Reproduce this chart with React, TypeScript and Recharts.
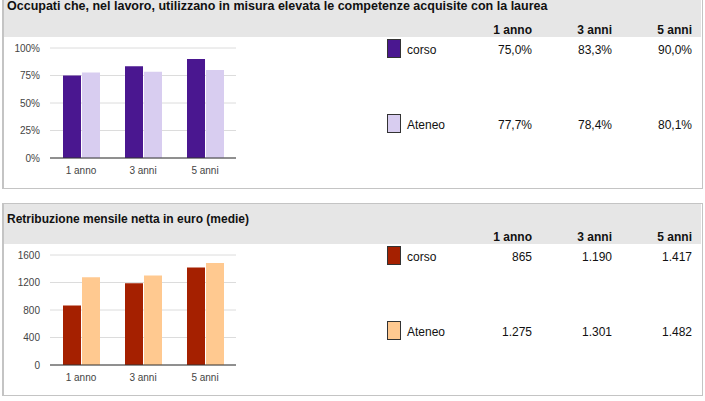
import React from 'react';
import { BarChart, Bar, XAxis, YAxis, CartesianGrid } from 'recharts';

const years = ['1 anno', '3 anni', '5 anni'];

const occCorso = [75.0, 83.3, 90.0];
const occAteneo = [77.7, 78.4, 80.1];
const occTicks = [0, 25, 50, 75, 100];

const retrCorso = [865, 1190, 1417];
const retrAteneo = [1275, 1301, 1482];
const retrTicks = [0, 400, 800, 1200, 1600];

const FONT = "Arial, 'Liberation Sans', Helvetica, sans-serif";

const pct = (v: number) => v.toFixed(1).replace('.', ',') + '%';
const euro = (v: number) => String(Math.round(v)).replace(/\B(?=(\d{3})+(?!\d))/g, '.');

interface PanelProps {
  top: number; // page y of the panel's top border
  title: string;
  titleTop: number;
  titleSize: number;
  corso: number[];
  ateneo: number[];
  ticks: number[];
  tickFmt: (v: number) => string;
  cellFmt: (v: number) => string;
  dark: string;
  light: string;
}

function Panel({ top, title, titleTop, titleSize, corso, ateneo, ticks, tickFmt, cellFmt, dark, light }: PanelProps) {
  const data = years.map((y, i) => ({ year: y, corso: corso[i], ateneo: ateneo[i] }));
  const o = top + 4; // offset relative to first panel layout
  const colRight = [532, 612, 692];

  const txt = (s: string, x: number, y: number, bold = false, right = true) => (
    <div
      key={s + x + y}
      style={{
        position: 'absolute',
        top: y,
        left: right ? x - 100 : x,
        width: 100,
        textAlign: right ? 'right' : 'left',
        fontSize: 12,
        lineHeight: '14px',
        fontWeight: bold ? 'bold' : 'normal',
        color: '#111',
        whiteSpace: 'nowrap',
      }}
    >
      {s}
    </div>
  );

  const swatch = (color: string, y: number) => (
    <div
      style={{
        position: 'absolute',
        left: 387,
        top: y,
        width: 12,
        height: 17,
        background: color,
        border: '1px solid #333',
      }}
    />
  );

  return (
    <>
      <div
        style={{
          position: 'absolute',
          left: 2,
          top,
          width: 698,
          height: 191,
          border: '1px solid #c4c4c4',
          borderLeftWidth: 2,
          background: '#fff',
        }}
      />
      <div style={{ position: 'absolute', left: 4, top: top + 1, width: 697, height: 40, background: '#e6e6e6' }} />
      <div
        style={{
          position: 'absolute',
          left: 7,
          top: titleTop,
          fontSize: titleSize,
          lineHeight: '14px',
          fontWeight: 'bold',
          color: '#111',
          whiteSpace: 'nowrap',
        }}
      >
        {title}
      </div>

      {years.map((y, i) => txt(y, colRight[i], o + 23, true))}
      {swatch(dark, o + 39)}
      {txt('corso', 407, o + 43, false, false)}
      {corso.map((v, i) => txt(cellFmt(v), colRight[i], o + 43))}
      {swatch(light, o + 114)}
      {txt('Ateneo', 407, o + 118, false, false)}
      {ateneo.map((v, i) => txt(cellFmt(v), colRight[i], o + 118))}

      <div style={{ position: 'absolute', left: 0, top: o + 38 }}>
        <BarChart
          width={250}
          height={150}
          data={data}
          margin={{ top: 10, right: 14, bottom: 0, left: 0 }}
          barSize={18}
          barGap={1}
        >
          <CartesianGrid vertical={false} stroke="#dcdcdc" />
          <XAxis
            dataKey="year"
            height={30}
            tickLine={false}
            tickSize={6}
            tickMargin={3}
            axisLine={{ stroke: '#333' }}
            tick={{ fontSize: 10, fill: '#444', fontFamily: FONT }}
          />
          <YAxis
            width={50}
            domain={[ticks[0], ticks[ticks.length - 1]]}
            ticks={ticks}
            interval={0}
            tickLine={false}
            axisLine={false}
            tickSize={6}
            tickMargin={4}
            tickFormatter={tickFmt}
            tick={{ fontSize: 10, fill: '#444', fontFamily: FONT }}
          />
          <Bar dataKey="corso" fill={dark} isAnimationActive={false} />
          <Bar dataKey="ateneo" fill={light} isAnimationActive={false} />
        </BarChart>
      </div>
    </>
  );
}

export default function App() {
  return (
    <div
      style={{
        position: 'absolute',
        left: 0,
        top: 0,
        width: 705,
        height: 401,
        overflow: 'hidden',
        background: '#fff',
        fontFamily: FONT,
      }}
    >
      <Panel
        top={-4}
        title="Occupati che, nel lavoro, utilizzano in misura elevata le competenze acquisite con la laurea"
        titleTop={-1.5}
        titleSize={12.5}
        corso={occCorso}
        ateneo={occAteneo}
        ticks={occTicks}
        tickFmt={(v) => v + '%'}
        cellFmt={pct}
        dark="#4a1790"
        light="#d8cdf0"
      />
      <Panel
        top={203}
        title="Retribuzione mensile netta in euro (medie)"
        titleTop={212}
        titleSize={12}
        corso={retrCorso}
        ateneo={retrAteneo}
        ticks={retrTicks}
        tickFmt={(v) => String(v)}
        cellFmt={euro}
        dark="#a52000"
        light="#ffc990"
      />
    </div>
  );
}
